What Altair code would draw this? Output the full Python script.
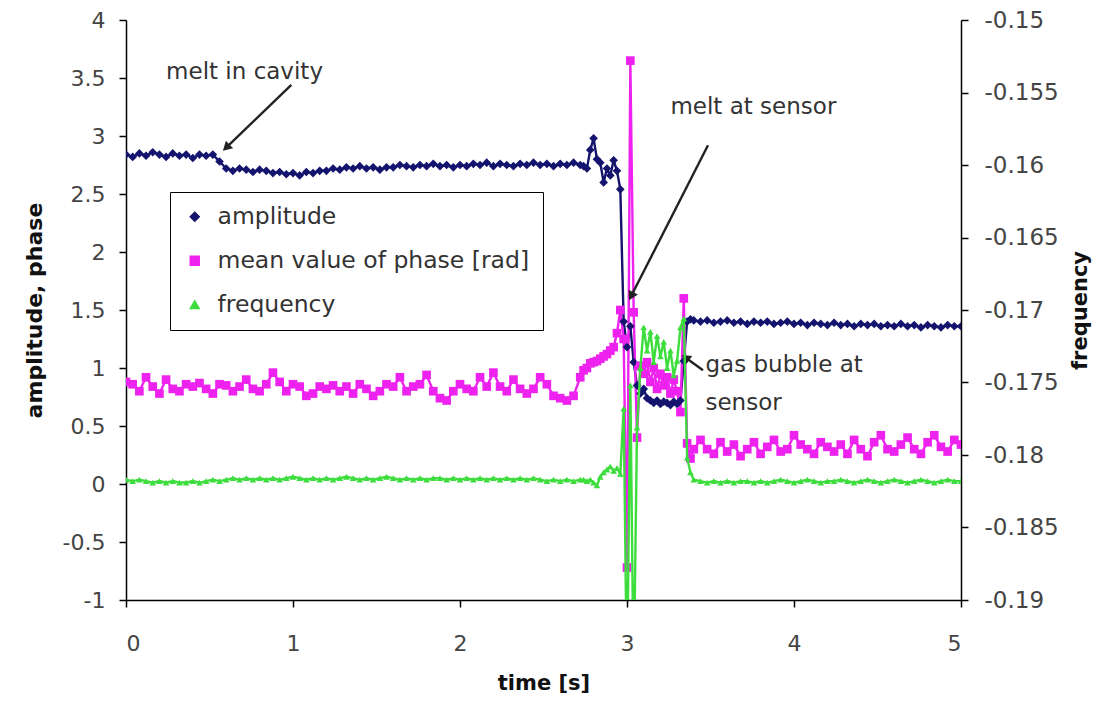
import math
import altair as alt
import pandas as pd

# ---------------- data ----------------
time = [
    0.00, 0.04, 0.08, 0.12, 0.16, 0.20, 0.24, 0.28, 0.32, 0.36,
    0.40, 0.44, 0.48, 0.52, 0.56, 0.60, 0.64, 0.68, 0.72, 0.76,
    0.80, 0.84, 0.88, 0.92, 0.96, 1.00, 1.04, 1.08, 1.12, 1.16,
    1.20, 1.24, 1.28, 1.32, 1.36, 1.40, 1.44, 1.48, 1.52, 1.56,
    1.60, 1.64, 1.68, 1.72, 1.76, 1.80, 1.84, 1.88, 1.92, 1.96,
    2.00, 2.04, 2.08, 2.12, 2.16, 2.20, 2.24, 2.28, 2.32, 2.36,
    2.40, 2.44, 2.48, 2.52, 2.56, 2.60, 2.64, 2.68, 2.72,
    2.74, 2.76, 2.78, 2.80, 2.82, 2.84, 2.86, 2.88, 2.90, 2.92,
    2.94, 2.96, 2.98, 3.00, 3.02, 3.04, 3.06, 3.08, 3.10, 3.12,
    3.14, 3.16, 3.18, 3.20, 3.22, 3.24, 3.26, 3.28, 3.30, 3.32,
    3.34, 3.36, 3.38, 3.40,
    3.44, 3.48, 3.52, 3.56, 3.60, 3.64, 3.68, 3.72, 3.76, 3.80,
    3.84, 3.88, 3.92, 3.96, 4.00, 4.04, 4.08, 4.12, 4.16, 4.20,
    4.24, 4.28, 4.32, 4.36, 4.40, 4.44, 4.48, 4.52, 4.56, 4.60,
    4.64, 4.68, 4.72, 4.76, 4.80, 4.84, 4.88, 4.92, 4.96, 5.00,
]

amplitude = [
    2.84, 2.82, 2.85, 2.83, 2.86, 2.84, 2.82, 2.85, 2.83, 2.84,
    2.81, 2.84, 2.83, 2.84, 2.78, 2.72, 2.70, 2.72, 2.71, 2.69,
    2.71, 2.70, 2.68, 2.69, 2.67, 2.68, 2.66, 2.69, 2.68, 2.70,
    2.70, 2.72, 2.71, 2.73, 2.72, 2.74, 2.72, 2.73, 2.71, 2.73,
    2.73, 2.75, 2.74, 2.73, 2.75, 2.74, 2.76, 2.74, 2.75, 2.73,
    2.75, 2.74, 2.76, 2.75, 2.77, 2.74, 2.76, 2.75, 2.74, 2.76,
    2.75, 2.77, 2.75, 2.76, 2.74, 2.76, 2.75, 2.77, 2.75,
    2.74, 2.72, 2.88, 2.98, 2.80, 2.77, 2.60, 2.72, 2.66, 2.79,
    2.70, 2.54, 1.40, 1.18, 1.36, 1.05, 0.85, 0.78, 0.82, 0.74,
    0.72, 0.70, 0.72, 0.69, 0.71, 0.70, 0.68, 0.71, 0.69, 0.72,
    1.06, 1.40, 1.42, 1.41,
    1.40, 1.41, 1.39, 1.40, 1.41, 1.39, 1.40, 1.38, 1.40, 1.39,
    1.40, 1.38, 1.39, 1.40, 1.38, 1.39, 1.37, 1.39, 1.38, 1.37,
    1.39, 1.37, 1.38, 1.36, 1.38, 1.37, 1.38, 1.36, 1.37, 1.36,
    1.38, 1.36, 1.37, 1.35, 1.37, 1.36, 1.35, 1.37, 1.36, 1.36,
]

phase = [
    0.88, 0.86, 0.80, 0.92, 0.84, 0.78, 0.90, 0.82, 0.80, 0.86,
    0.84, 0.87, 0.82, 0.78, 0.86, 0.85, 0.80, 0.84, 0.90, 0.82,
    0.80, 0.86, 0.96, 0.88, 0.80, 0.86, 0.84, 0.76, 0.78, 0.84,
    0.82, 0.85, 0.80, 0.84, 0.78, 0.86, 0.82, 0.76, 0.80, 0.86,
    0.84, 0.92, 0.80, 0.84, 0.86, 0.94, 0.80, 0.74, 0.72, 0.80,
    0.86, 0.82, 0.80, 0.92, 0.84, 0.96, 0.84, 0.80, 0.90, 0.82,
    0.78, 0.82, 0.92, 0.86, 0.76, 0.74, 0.72, 0.76, 0.92,
    0.98, 1.00, 1.04, 1.05, 1.06, 1.08, 1.10, 1.12, 1.15, 1.18,
    1.30, 1.50, 1.25, -0.72, 3.65, 1.48, 0.40, 1.02, 0.95, 1.05,
    0.88, 1.00, 0.82, 0.95, 0.85, 0.92, 0.78, 0.90, 0.80, 0.62,
    1.60, 0.35, 0.22, 0.30,
    0.38, 0.30, 0.26, 0.36, 0.28, 0.34, 0.24, 0.30, 0.36, 0.26,
    0.32, 0.38, 0.28, 0.30, 0.42, 0.34, 0.30, 0.26, 0.36, 0.32,
    0.28, 0.34, 0.26, 0.38, 0.30, 0.24, 0.36, 0.42, 0.30, 0.28,
    0.34, 0.40, 0.30, 0.26, 0.36, 0.42, 0.32, 0.28, 0.38, 0.34,
]

frequency = [
    -0.1817, -0.1818, -0.1817, -0.1818, -0.1819, -0.1818, -0.1819, -0.1818, -0.1819, -0.1819,
    -0.1818, -0.1819, -0.1818, -0.1817, -0.1818, -0.1817, -0.1816, -0.1817, -0.1816, -0.1817,
    -0.1816, -0.1817, -0.1816, -0.1817, -0.1816, -0.1815, -0.1816, -0.1817, -0.1816, -0.1817,
    -0.1816, -0.1817, -0.1816, -0.1815, -0.1816, -0.1817, -0.1816, -0.1817, -0.1816, -0.1815,
    -0.1816, -0.1817, -0.1816, -0.1817, -0.1816, -0.1817, -0.1816, -0.1816, -0.1817, -0.1816,
    -0.1817, -0.1816, -0.1817, -0.1816, -0.1817, -0.1816, -0.1817, -0.1816, -0.1817, -0.1816,
    -0.1817, -0.1816, -0.1817, -0.1818, -0.1817, -0.1818, -0.1817, -0.1818, -0.1817,
    -0.1817, -0.1818, -0.1817, -0.1819, -0.1821, -0.1815, -0.1812, -0.1810, -0.1808, -0.1811,
    -0.1809, -0.1813, -0.1768, -0.1960, -0.1752, -0.1960, -0.1781, -0.1740, -0.1712, -0.1728,
    -0.1715, -0.1736, -0.1718, -0.1732, -0.1722, -0.1740, -0.1728, -0.1745, -0.1735, -0.1712,
    -0.1706, -0.1802, -0.1812, -0.1817,
    -0.1818, -0.1819, -0.1818, -0.1819, -0.1818, -0.1819, -0.1818, -0.1818, -0.1819, -0.1818,
    -0.1819, -0.1818, -0.1817, -0.1818, -0.1819, -0.1818, -0.1817, -0.1818, -0.1819, -0.1818,
    -0.1818, -0.1817, -0.1818, -0.1819, -0.1818, -0.1817, -0.1818, -0.1819, -0.1818, -0.1817,
    -0.1818, -0.1819, -0.1818, -0.1817, -0.1818, -0.1819, -0.1818, -0.1817, -0.1818, -0.1818,
]

series_names = ["amplitude", "mean value of phase [rad]", "frequency"]
series_colors = ["#14146e", "#ee22ee", "#3ddd3d"]
series_shapes = ["diamond", "square", "triangle-up"]

left_ticks = [-1, -0.5, 0, 0.5, 1, 1.5, 2, 2.5, 3, 3.5, 4]
right_ticks = [-0.19, -0.185, -0.18, -0.175, -0.17, -0.165, -0.16, -0.155, -0.15]
x_ticks = [0, 1, 2, 3, 4, 5]

# annotations (data coordinates: time, left-axis value)
note_text = ["melt in cavity", "melt at sensor", "gas bubble at", "sensor"]
note_time = [0.24, 3.26, 3.47, 3.47]
note_value = [3.55, 3.25, 1.03, 0.70]

arrow_t0 = [0.99, 3.485, 3.455]
arrow_v0 = [3.44, 2.92, 0.98]
arrow_t1 = [0.60, 3.025, 3.35]
arrow_v1 = [2.90, 1.62, 1.09]

# ---------------- build tables ----------------
rows = []
for name, vals in zip(series_names, [amplitude, phase, frequency]):
    for t, v in zip(time, vals):
        rows.append({"time": t, "value": v, "series": name})
df = pd.DataFrame(rows)

W, H = 835, 580
px_t = W / 5.0
px_v = H / 5.0
angles = []
for a, b, c, d in zip(arrow_t0, arrow_v0, arrow_t1, arrow_v1):
    dx = (c - a) * px_t
    dy = -(d - b) * px_v
    angles.append(math.degrees(math.atan2(dx, -dy)) % 360)

df_notes = pd.DataFrame({"time": note_time, "value": note_value, "label": note_text})
df_arrows = pd.DataFrame({"time": arrow_t0, "value": arrow_v0, "time2": arrow_t1, "value2": arrow_v1})
df_heads = pd.DataFrame({"time": arrow_t1, "value": arrow_v1, "angle": angles})

FONT = "DejaVu Sans"

neg_expr = "datum.value < 0 ? '-' + format(-datum.value, '{f}') : format(datum.value, '{f}')"

x_enc = alt.X(
    "time:Q",
    scale=alt.Scale(domain=[0, 5], nice=False),
    axis=alt.Axis(
        title="time [s]", values=x_ticks, labelFontSize=22, labelPadding=26,
        titleFontSize=21, titleFontWeight="bold", titlePadding=18,
    ),
)
y_left = alt.Y(
    "value:Q",
    scale=alt.Scale(domain=[-1, 4], nice=False, zero=False),
    axis=alt.Axis(
        title="amplitude, phase", values=left_ticks,
        labelExpr=neg_expr.format(f=".1~f"), labelFontSize=22, labelPadding=14,
        titleFontSize=22, titleFontWeight="bold", titlePadding=16,
    ),
)
y_right = alt.Y(
    "value:Q",
    scale=alt.Scale(domain=[-0.19, -0.15], nice=False, zero=False),
    axis=alt.Axis(
        orient="right", title="frequency", values=right_ticks,
        labelExpr=neg_expr.format(f=".3~f"), labelFontSize=23, labelPadding=16,
        titleFontSize=21, titleFontWeight="bold", titlePadding=32, titleAngle=-90,
    ),
)

legend = alt.Legend(
    title=None, orient="none", legendX=44, legendY=172,
    strokeColor="black", fillColor="white", padding=13,
    labelFontSize=23.5, labelFont=FONT, labelColor="#333333", labelLimit=450,
    symbolSize=80, rowPadding=19, labelOffset=11, direction="vertical",
)
color_enc = alt.Color("series:N", scale=alt.Scale(domain=series_names, range=series_colors), legend=legend)
shape_enc = alt.Shape("series:N", scale=alt.Scale(domain=series_names, range=series_shapes), legend=legend)

base = alt.Chart(df)

left_data = base.transform_filter(alt.FieldOneOfPredicate(field="series", oneOf=series_names[:2]))
left_lines = left_data.mark_line(strokeWidth=2.4, clip=True).encode(
    x=x_enc, y=y_left, color=color_enc, order="time:Q"
)
left_points = left_data.mark_point(filled=True, opacity=1, size=75, clip=True).encode(
    x=x_enc, y=y_left, color=color_enc, shape=shape_enc
)

notes = alt.Chart(df_notes).mark_text(
    align="left", baseline="middle", fontSize=23, font=FONT, color="#333333"
).encode(x=x_enc, y=y_left, text="label:N")
arrows = alt.Chart(df_arrows).mark_rule(color="#222222", strokeWidth=2.4).encode(
    x=x_enc, y=y_left, x2="time2:Q", y2="value2:Q"
)
heads = alt.Chart(df_heads).mark_point(
    shape="triangle-up", filled=True, opacity=1, size=110, color="#222222"
).encode(x=x_enc, y=y_left, angle=alt.Angle("angle:Q", scale=None))

left = alt.layer(left_lines, left_points, arrows, heads, notes)

right_data = base.transform_filter(alt.FieldEqualPredicate(field="series", equal="frequency"))
right_lines = right_data.mark_line(strokeWidth=2.4, clip=True).encode(
    x=x_enc, y=y_right, color=color_enc, order="time:Q"
)
right_points = right_data.mark_point(filled=True, opacity=1, size=45, clip=True).encode(
    x=x_enc, y=y_right, color=color_enc, shape=shape_enc
)
right = alt.layer(right_lines, right_points)

chart = (
    alt.layer(left, right)
    .resolve_scale(y="independent")
    .properties(
        width=W, height=H,
        padding={"left": 126, "top": 20, "right": 145, "bottom": 114},
        autosize=alt.AutoSizeParams(type="none"),
    )
    .configure_view(stroke=None)
    .configure_axis(
        grid=False, domainColor="black", domainWidth=1.5, tickColor="black",
        tickWidth=1.5, tickSize=7, labelColor="#444444", labelFont=FONT,
        titleFont=FONT, titleColor="#111111",
    )
)

chart.save("out.html", embed_options={"renderer": "svg", "actions": False})
